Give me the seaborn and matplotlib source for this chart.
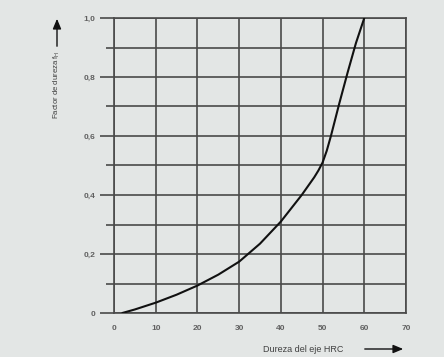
import matplotlib
matplotlib.use("Agg")
import matplotlib.pyplot as plt
import seaborn as sns
import pandas as pd
from matplotlib.ticker import MultipleLocator, FixedLocator

# hardness curve
hrc = [2, 5, 10, 15, 20, 25, 30, 35, 40, 45, 48, 49, 50, 51, 52, 54, 56, 58, 60]
factor = [0.0, 0.012, 0.035, 0.062, 0.093, 0.13, 0.174, 0.235, 0.31, 0.40, 0.46, 0.483, 0.51, 0.55, 0.6, 0.71, 0.815, 0.915, 1.0]

x_ticks = [0, 10, 20, 30, 40, 50, 60, 70]
y_ticks = [0, 0.2, 0.4, 0.6, 0.8, 1.0]
y_labels = ["0", "0,2", "0,4", "0,6", "0,8", "1,0"]

bg = "#e3e6e5"
grid_col = "#4a4a4a"

sns.set_style("white", {"axes.facecolor": bg, "figure.facecolor": bg})
plt.rcParams["font.family"] = ["Liberation Sans", "DejaVu Sans"]

df = pd.DataFrame({"HRC": hrc, "fH": factor})

fig = plt.figure(figsize=(4.44, 3.57), dpi=100)
ax = fig.add_axes([114 / 444, 1 - 313 / 357, 292 / 444, 295 / 357])

sns.lineplot(data=df, x="HRC", y="fH", ax=ax, color="#111111", linewidth=1.5, zorder=5)

ax.set_xlim(0, 70)
ax.set_ylim(0, 1.0)
ax.xaxis.set_major_locator(FixedLocator(x_ticks))
ax.yaxis.set_major_locator(FixedLocator(y_ticks))
ax.yaxis.set_minor_locator(MultipleLocator(0.1))
ax.set_xticklabels([str(v) for v in x_ticks])
ax.set_yticklabels(y_labels)

ax.grid(True, which="both", color=grid_col, linewidth=1.2)
for s in ax.spines.values():
    s.set_color(grid_col)
    s.set_linewidth(1.2)

ax.tick_params(axis="x", length=0, pad=9, labelsize=6, labelcolor="#606060")
ax.tick_params(axis="y", which="major", length=10, width=1.2, color=grid_col,
               pad=3.5, labelsize=6, labelcolor="#606060", left=True)
ax.tick_params(axis="y", which="minor", length=5.8, width=1.2, color=grid_col, left=True)
for lbl in ax.get_xticklabels() + ax.get_yticklabels():
    lbl.set_fontweight("bold")
ax.set_xlabel("")
ax.set_ylabel("")

# axis titles with arrows, as on the original sheet
fig.text(303 / 444, 1 - 349 / 357, "Dureza del eje HRC", ha="center", va="center",
         fontsize=6.5, color="#404040")
fig.patches.append(plt.matplotlib.patches.FancyArrowPatch(
    (362 / 444, 1 - 349 / 357), (406 / 444, 1 - 349 / 357), transform=fig.transFigure,
    arrowstyle="-|>,head_length=6,head_width=2.5", color="#111111", linewidth=1))

fig.text(57 / 444, 1 - 85 / 357, r"Factor de dureza f$_\mathregular{H}$", ha="center", va="center",
         rotation=90, fontsize=5.6, color="#404040")
fig.patches.append(plt.matplotlib.patches.FancyArrowPatch(
    (57 / 444, 1 - 49 / 357), (57 / 444, 1 - 16 / 357), transform=fig.transFigure,
    arrowstyle="-|>,head_length=6,head_width=2.5", color="#111111", linewidth=1))

fig.savefig("out.png", dpi=100, facecolor=bg)
